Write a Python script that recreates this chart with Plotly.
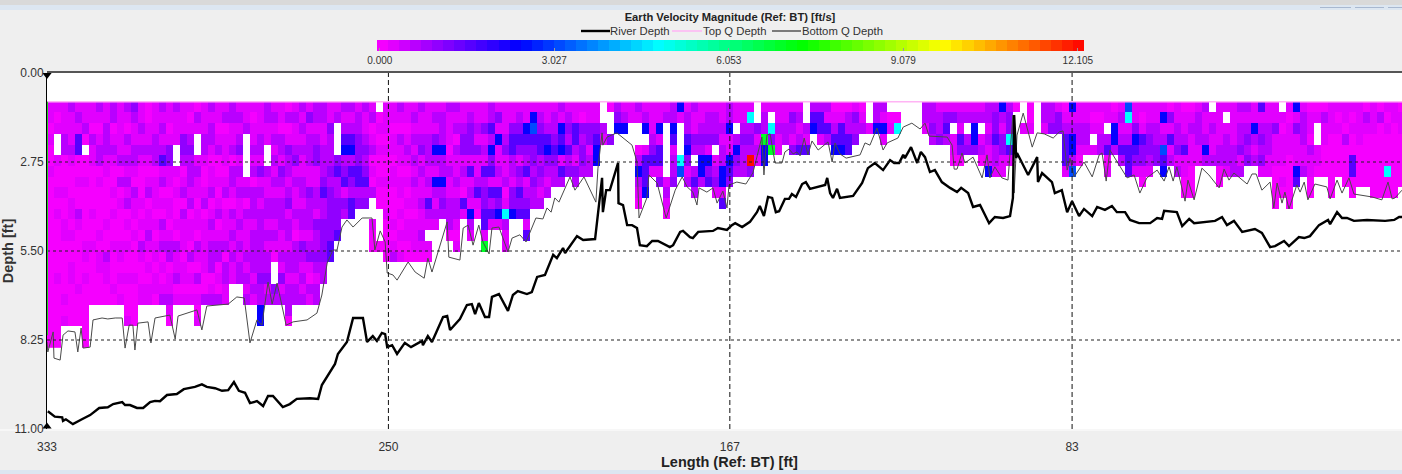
import numpy as np
import plotly.graph_objects as go

TITLE = "Earth Velocity Magnitude (Ref: BT) [ft/s]"
X_TITLE = "Length (Ref: BT) [ft]"
Y_TITLE = "Depth [ft]"
X_TICKS = [333, 249.9, 166.8, 83.5]
X_LABELS = ["333", "250", "167", "83"]
Y_TICKS = [0, 2.75, 5.5, 8.25, 11]
Y_LABELS = ["0.00", "2.75", "5.50", "8.25", "11.00"]
CB_TICKS = [0.0, 3.027, 6.053, 9.079, 12.105]
CB_LABELS = ["0.000", "3.027", "6.053", "9.079", "12.105"]
TOP_Q_DEPTH = 0.89
BIN_SIZE = 0.331
ENS_STEP = 1.704
X_START = 333.0
X_END = 3.2

RIVER_X = [332.8,331.1,329.3,329.1,328.4,326.7,324.5,322.5,320.3,318.2,316.9,314.7,314,312.8,311.1,309.6,307.9,306.7,305.5,303.8,301.4,299.7,297,295.3,294.1,292.1,290.4,288.9,287.5,286.3,284.8,283.6,281.9,280.4,279.2,278,275.6,273.9,272.2,269,267,266.1,262.9,262.2,260,258.5,256.1,255.1,253.7,252.7,251.5,250.7,250.2,249,247.8,245.9,244.4,241.7,241.5,240.3,239.3,236.6,235.6,234.9,232.5,230.8,229.6,228.8,227.9,226.4,225.4,224.7,223,220.8,219.6,218.4,216.2,215,213.7,211.8,209.8,208.9,207.4,206.9,204,202.5,199.6,198.4,197.9,197.7,196.9,196,194,193.9,192.8,191.8,190.6,189.4,188.7,187,185.7,184.3,181.4,180.6,178.9,178.2,176.5,175.8,174.5,170.9,169.7,167.5,166.3,165.5,163.8,161.9,160.2,159.5,158.5,157.5,156.5,155.6,154.8,153.4,152.4,151.7,150.7,149.2,148.3,147.3,143.6,143.1,142.4,141.7,140.7,140,136.8,134.6,133.2,131.5,129.5,127.8,126.8,125.6,124.6,124.2,122.7,121.2,120.3,119.3,118.1,116.9,115.2,113.2,111.5,110.5,108.8,107.6,105.9,103.7,102.3,100.3,98.6,97.9,97.6,97.1,96.9,94.2,92,91.8,90.8,88.4,87.7,86,84.7,83.5,81.8,80.6,78.6,77.4,75.5,73.8,72.6,70.6,69.4,67.2,64.5,62.8,61.6,61.1,58,56.7,55,53.8,48.7,47,45.8,44.1,42.1,39,37.3,35.3,34.1,31.9,30.7,28.3,27,25.6,23.4,21.2,20.7,19,17.8,16.6,14.9,11.7,7.3,5.1,3.9,3.2]
RIVER_D = [10.45,10.62,10.64,10.75,10.7,10.85,10.7,10.57,10.35,10.33,10.23,10.17,10.26,10.26,10.35,10.35,10.17,10.13,10.14,9.95,9.92,9.77,9.70,9.62,9.70,9.74,9.82,9.8,9.55,9.82,9.88,10.2,10.14,10.29,9.98,9.98,10.32,10.23,10.07,10.05,10.07,9.64,8.99,8.68,8.31,7.57,7.57,8.31,8.13,8.28,8.03,8.07,8.47,8.41,8.68,8.34,8.47,8.28,8.41,8.13,8.31,7.54,7.51,7.94,7.6,7.17,7.14,7.45,7.11,7.54,7.54,6.92,6.83,7.35,6.86,6.74,6.83,6.77,6.30,6.24,5.62,5.72,5.41,5.56,5.04,5.16,5.13,3.86,3.24,4.30,3.62,3.62,2.78,4.02,4.08,4.70,4.70,4.79,5.32,5.35,5.19,5.19,5.38,5.32,4.91,4.88,5.07,5.10,4.91,4.88,4.79,4.85,4.70,4.64,4.76,4.60,4.30,4.11,4.42,3.83,3.86,4.30,4.27,3.89,3.89,3.74,3.83,3.43,3.37,3.58,3.46,3.24,3.71,3.86,3.58,3.86,3.80,3.40,2.94,2.78,3.0,2.69,2.78,2.78,2.53,2.63,2.29,2.78,2.44,2.6,3.06,3.0,3.37,3.55,3.68,3.55,3.71,4.14,4.08,4.64,4.45,4.48,4.42,3.86,1.30,2.63,2.47,3.15,2.60,3.37,3.09,3.37,3.71,3.62,4.30,3.96,4.42,4.2,4.42,4.14,4.23,4.11,4.30,4.30,4.54,4.64,4.64,4.48,4.51,4.26,4.30,4.73,4.51,4.64,4.57,4.45,4.70,4.57,4.91,4.82,4.94,5.38,5.35,5.19,5.35,5.07,5.10,5.04,4.70,4.54,4.67,4.30,4.48,4.48,4.57,4.54,4.57,4.54,4.45,4.45]

BOTTOM_X = [333,332.8,331.5,331.3,329.8,329.1,327.9,326.2,325.5,324.7,324.2,322.5,321.8,319.6,318.2,316.4,314.7,314,313,312.1,311.6,310.9,308.4,307.7,306.7,303.1,301.8,301.1,296.5,295.3,294.1,288.9,286.8,285,283.6,281.9,280.7,279.2,278.2,277,274.8,273.1,269.7,267.3,266.1,264.8,263.4,262.4,261.2,260,258.5,256.3,253.9,253.2,251.9,250.7,250.2,248.8,247.8,245.1,243.4,241.2,240.3,239.3,235.6,235.2,232.5,231.7,230.5,229.3,227.9,226.9,225.4,224.7,223,220.8,219.8,217.9,216.4,214,212.3,211.3,210.3,209.4,208.4,207.4,205.7,204.5,202.3,199.4,198.9,197.9,197.7,196.7,194.3,190.6,189.4,188.9,187,186.5,184.5,182.3,180.1,178.4,177.2,175.8,174.8,174.3,172.4,170.9,169.9,168.5,167.5,167,165.1,162.9,161.2,159,158.5,157.8,157,155.8,154.1,153.4,152.4,151.4,150.5,149.7,148.7,147.8,146.8,145.3,142.9,141.9,141.2,140,138.5,135.1,133.9,132.7,131,129.5,128.5,125.9,124.6,122.5,120.5,119.3,118.3,113.9,112.7,112.2,111.5,110.3,109.6,107.6,105.4,104.2,103.5,102.3,100.6,99.1,97.9,97.6,96.9,95.4,93.2,92,90.3,88.1,86.6,85.7,84.7,84,83,80.6,78.6,76.9,76.2,75.2,74.3,70.1,68.4,67,65.3,62.8,61.1,59.9,58.9,58,56,55.3,53.8,51.9,50.2,47.7,46.5,45.3,44.1,40.9,39.7,38.7,37.3,35.3,34.4,33.6,32.4,31.7,30.7,28.8,28,27,26.1,24.4,21.5,20.7,19,17.8,16.1,14.9,10.5,8.1,6.6,5.6,4.9,3.2]
BOTTOM_D = [8.31,8.62,8.0,8.81,8.87,8.10,7.97,8.0,8.62,7.88,8.5,8.47,7.63,7.57,7.6,7.57,7.57,8.5,7.79,7.79,8.56,7.73,7.69,8.34,7.57,7.48,8.22,7.51,7.32,7.94,7.2,7.14,6.92,6.95,8.34,7.63,7.79,6.46,7.14,6.49,7.79,7.69,7.63,7.42,6.86,5.87,5.47,5.47,4.76,4.54,4.76,4.48,4.48,5.47,4.88,5.22,6.18,6.24,6.40,5.84,6.15,6.34,5.72,6.15,4.60,5.69,5.78,4.79,4.70,5.32,4.70,5.22,5.59,4.79,4.76,5.53,5.10,5.0,5.22,4.48,4.51,4.17,4.30,3.86,3.99,3.68,3.21,3.62,3.21,3.99,2.94,1.85,2.23,1.98,1.85,2.23,2.75,4.48,3.86,3.15,3.40,4.48,3.62,3.21,3.52,3.68,4.08,3.55,3.68,3.55,4.02,3.65,4.17,3.46,3.37,3.43,3.09,1.98,3.15,1.92,1.88,2.78,2.78,2.44,2.35,2.5,2.44,2.56,2.01,2.53,2.10,2.38,2.13,2.75,2.16,2.5,2.63,2.53,2.16,2.23,1.70,2.38,2.16,2.01,1.67,1.55,1.73,1.55,1.95,1.98,2.23,2.97,2.97,2.47,2.78,2.60,3.24,2.53,3.24,2.90,3.24,3.31,1.30,3.71,1.92,1.24,2.29,1.85,1.88,2.01,1.82,1.79,3.0,2.63,3.21,2.75,3.21,2.53,2.47,3.34,2.38,3.24,3.15,3.71,3.24,3.0,3.34,2.90,3.34,2.90,3.96,3.31,3.92,2.94,3.15,3.55,2.97,3.31,3.09,3.43,3.12,3.12,3.62,3.37,4.17,3.40,4.02,3.68,4.20,3.46,3.68,3.37,3.92,3.43,3.52,3.89,3.31,3.71,3.24,3.74,3.83,3.92,3.37,3.89,3.86,3.62]

# velocity level per ensemble, top bin first; "." = no data
LEVEL_VALUES = {"0":0.02,"1":0.25,"2":0.6,"3":1.05,"4":1.6,"5":2.4,"6":3.2,"7":4.9,"8":7.0,"9":12.1}
ENSEMBLES = [
"11010 01000 00000 00000 000","101.. 10010 10000 01000 000","11122 00010 01100 00010 1","21112 10001 10100 11000 0","12144 00100 21000 00100 0",
"1120. 00100 00011 01000 000","11021 10000 10010 0000","21012 20100 00101 1000","11222 11000 01002 1100","22012 10010 10010 0010",
"11111 20201 00011 0101","21021 21212 01010 01000 1","32112 21021 10100 01000 0","11212 10001 01021 0011","00112 10120 11210 1011",
"11122 20111 01011 0110","21212 41201 02120 1012","11013 31101 10122 01121 0","2111. .1010 01021 1201","11133 20120 21110 1101",
"10123 22212 01102 0101","021.. 12110 11021 02010 1","11122 10012 01111 1002","21221 01120 12122 2012","11012 00101 20122 0102",
"12011 10120 11120 2211","22112 02210 21212 11","12123 12121 12121 22","112.. ..120 21112 1212","10112 12022 21222 2121",
"11122 13121 22222 23225 5","2211. .2112 21212 2312","12121 21212 21210 ..32","11022 13212 22112 1312","02013 22123 12212 21222 0",
"12112 31211 21022 2122","21212 11221 22132 1212","13122 21132 22123 1021","22123 31122 13223 2122","22112 22342 23333 22",
"11322 23233 33344","12... 34223 334","21245 23413 2","21245 24324 4","12233 34423 .",
"21123 23423 .","12012 0102. .100",".0101 00100 ...0","11101 00100 10000","11011 01100 01012",
"21021 10110 10101","11012 10101 01100","12121 21211 01110","21123 12112 11210","11122 21214 21.10",
"12135 21521 21","12225 22523 2","21110 12112 220","21202 11212 2101","11233 12104 1",
"12333 14121 521","11213 11241 0","11312 14233 4418","22425 34142 41","13151 12143 51",
"11123 11201 7211","11344 22133 5","12343 13243 4","11543 24123 414","15643 32322",
"12344 23212","11245 3212","12234 322","21545 142","12324 23",
"11442 132","10323 32","11331 22","11345 5","..21",
"0..3","235","125","11.","21..0 25210",
"125.1 4445","11123 41","11514 413","12... ..121 0","22541 223",
"51... 76","12245 312","21132 .242","11232 552","12231 534",
"1223. 1231","11212 25514","22511 543","11.25 32","11232 22",
"17232 93","..312 1","12285 5","1.738","11211",
"1122","13213","12124","..214","245",
"2441","2142","01245","01445","02244",
"1323","012","..1","225","2151",
".01",".07","","","",
"221","2232","1223","1342","13.11 0",
"12143 0","12.23","12553","12.12 0","22121 15",
"23342 21","52133 11","23374 1","0..","..1",
"001","","221","223","133",
"01244 41","51255 26","11221 0","11221","101.1",
"10122","11.24 01","01552","12124 2","67124 44",
"11354 31","10143 310","11233 21","11223 3","15126 45",
"03141 2","11223 12","01124 1100","01211 1000","12221 1",
"21125 2",".1211 2","11112 200","1.122 21","11112 22",
"21223 12","21232 3","11521 2","41232 31","11222 11",
"11311 10000",".1011 1010","10111 00000","51311 154","12221 12",
"01102 1100","01..1 10","02110 00","11100 0000","10100 00",
"11020 000","10100 4400","11110 000","02100 000","11100 0000",
"02000 0000","10100 0700","11000 0000","01100 000",
]

N_BINS = 23
z = np.full((N_BINS, len(ENSEMBLES)), np.nan)
for c, s in enumerate(ENSEMBLES):
    for r, ch in enumerate(s.replace(" ", "")[:N_BINS]):
        if ch != ".":
            z[r, c] = LEVEL_VALUES[ch]
xc = [X_START - (i + 0.5) * ENS_STEP for i in range(len(ENSEMBLES))]
yc = [TOP_Q_DEPTH + (i + 0.5) * BIN_SIZE for i in range(N_BINS)]

# stepped rainbow colour scale
anch_f = [0, .2, .4, .6, .8, 1]
anch = np.array([[255,0,255],[0,0,255],[0,255,255],[0,255,0],[255,255,0],[255,0,0]])
n = 64
cs = []
for i in range(n):
    f = (i + .5) / n
    rgb = [int(round(np.interp(f, anch_f, anch[:, k]))) for k in range(3)]
    col = f"rgb({rgb[0]},{rgb[1]},{rgb[2]})"
    cs += [[i / n, col], [(i + 1) / n, col]]

NARROW = "Liberation Sans Narrow, Arial Narrow, sans-serif"
SANS = "Liberation Sans, Arial, sans-serif"
W, H, L, T, B = 1402, 474, 47, 73, 45
px = lambda v: (v - L) / (W - L)
py = lambda v: (H - B - v) / (H - B - T)

fig = go.Figure()
fig.add_trace(go.Heatmap(x=xc, y=yc, z=z, zmin=-0.05, zmax=12.21, colorscale=cs, hoverongaps=False,
    name="Earth Velocity Magnitude",
    colorbar=dict(orientation="h", xref="container", yref="container", x=390/W, xanchor="left",
                  y=1-40/H, yanchor="top", lenmode="pixels", len=707, thicknessmode="pixels", thickness=11,
                  outlinewidth=0, borderwidth=0, xpad=0, ypad=0, tickmode="array", tickvals=CB_TICKS, ticktext=CB_LABELS,
                  ticks="inside", ticklen=3, tickcolor="#999999", tickfont=dict(family=NARROW, size=10, color="#333333"))))
fig.add_trace(go.Scatter(x=[X_START, X_END], y=[TOP_Q_DEPTH, TOP_Q_DEPTH], mode="lines", name="Top Q Depth",
                         line=dict(color="#FFB4F4", width=1.5)))
fig.add_trace(go.Scatter(x=BOTTOM_X, y=BOTTOM_D, mode="lines", name="Bottom Q Depth", line=dict(color="#4A4A4A", width=1)))
fig.add_trace(go.Scatter(x=RIVER_X, y=RIVER_D, mode="lines", name="River Depth", line=dict(color="#000000", width=2.4)))
fig.add_trace(go.Scatter(x=[X_START, X_START], y=[0.06, 10.92], mode="markers", cliponaxis=False, showlegend=False,
                         marker=dict(symbol=["triangle-down", "triangle-up"], size=8, color="#000000")))

shapes = []
for v in Y_TICKS[1:-1]:
    shapes.append(dict(type="line", xref="paper", yref="y", x0=0, x1=1, y0=v, y1=v, layer="above",
                       line=dict(color="#222222", width=1.2, dash="3px,3px")))
for v in X_TICKS[1:]:
    shapes.append(dict(type="line", xref="x", yref="paper", x0=v, x1=v, y0=0, y1=1, layer="above",
                       line=dict(color="#111111", width=1, dash="5px,3px")))
shapes.append(dict(type="line", xref="x", yref="y", x0=X_START, x1=X_START, y0=TOP_Q_DEPTH, y1=8.1, layer="above",
                   line=dict(color="#22CC22", width=2)))
shapes.append(dict(type="line", xref="paper", yref="paper", x0=0, x1=1, y0=py(72), y1=py(72), layer="above",
                   line=dict(color="#555555", width=2)))
for y0, y1, c in [(0, 5, "#D9D9D9"), (5, 10, "#DCE6F1"), (470, 474, "#DCE6F1"), (429, 431, "#F7F7F7")]:
    shapes.append(dict(type="rect", xref="paper", yref="paper", x0=px(0), x1=1, y0=py(y1), y1=py(y0),
                       line=dict(width=0), fillcolor=c, layer="below"))
for a, b in [(1320, 1351), (1355, 1384), (1388, 1402)]:
    shapes.append(dict(type="line", xref="paper", yref="paper", x0=px(a), x1=px(b), y0=py(7.5), y1=py(7.5),
                       line=dict(color="#A8B8D0", width=1)))
for a, b, c, w in [(581, 610, "#000000", 2.4), (672, 702, "#FFB4F4", 1.5), (772, 801, "#555555", 1.5)]:
    shapes.append(dict(type="line", xref="paper", yref="paper", x0=px(a), x1=px(b), y0=py(31), y1=py(31),
                       line=dict(color=c, width=w)))

annotations = [dict(xref="paper", yref="paper", x=px(a), y=py(31), text=t, showarrow=False, xanchor="left", yanchor="middle",
                    borderpad=0, font=dict(family=NARROW, size=11.3, color="#333333"))
               for a, t in [(609, "River Depth"), (702, "Top Q Depth"), (801, "Bottom Q Depth")]]
annotations.append(dict(xref="paper", yref="paper", x=px(730), y=py(462), text=f"<b>{X_TITLE}</b>", showarrow=False,
                        xanchor="center", yanchor="middle", font=dict(family=SANS, size=14.5, color="#222222")))

fig.update_layout(
    width=W, height=H, autosize=False, margin=dict(l=L, r=0, t=T, b=B, pad=0, autoexpand=False),
    paper_bgcolor="#EFEFEF", plot_bgcolor="#FFFFFF", showlegend=False, shapes=shapes, annotations=annotations,
    title=dict(text=f"<b>{TITLE}</b>", x=730/W, xanchor="center", y=1-17/H, yanchor="middle",
               font=dict(family=SANS, size=11.2, color="#222222")),
    xaxis=dict(range=[X_START, X_END], tickmode="array", tickvals=X_TICKS, ticktext=X_LABELS, showgrid=False,
               zeroline=False, ticks="outside", ticklen=7, tickcolor="rgba(0,0,0,0)",
               tickfont=dict(family=NARROW, size=12, color="#333333")),
    yaxis=dict(range=[11, 0], tickmode="array", tickvals=Y_TICKS, ticktext=Y_LABELS, showgrid=False, zeroline=False,
               showline=True, linecolor="#000000", linewidth=1, ticks="", tickfont=dict(family=NARROW, size=12, color="#333333"),
               title=dict(text=f"<b>{Y_TITLE}</b>", standoff=2, font=dict(family=SANS, size=14.5, color="#333333"))),
)
fig.write_html("out.html", config=dict(displayModeBar=False), post_script="document.body.style.margin='0';document.body.style.overflow='hidden';")
